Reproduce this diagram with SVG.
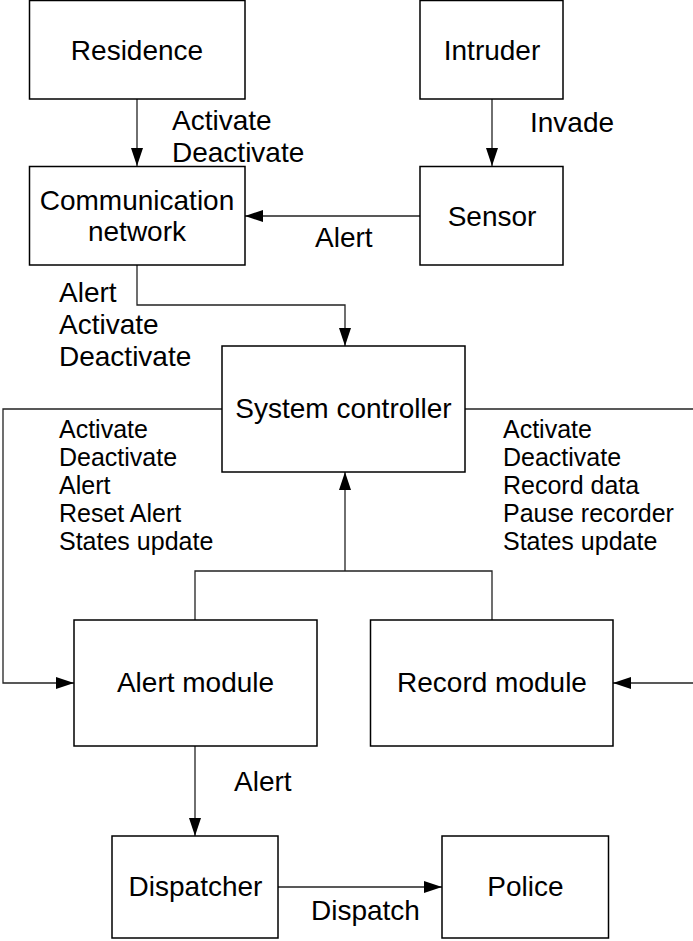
<svg xmlns="http://www.w3.org/2000/svg" width="693" height="941" viewBox="0 0 693 941">
  <defs>
    <marker id="arrow" viewBox="0 0 18 12" refX="18" refY="6" markerWidth="18" markerHeight="12" markerUnits="userSpaceOnUse" orient="auto">
      <path d="M0,0 L18,6 L0,12 Z" fill="#000"/>
    </marker>
    <style>
      .box { fill: #fff; stroke: #000; stroke-width: 1.5; }
      .name { font-family: "Liberation Sans", Arial, sans-serif; font-size: 28px; fill: #000; text-anchor: middle; }
      .lbl { font-family: "Liberation Sans", Arial, sans-serif; font-size: 28px; fill: #000; }
      .small { font-family: "Liberation Sans", Arial, sans-serif; font-size: 25px; fill: #000; }
      .wire { fill: none; stroke: #222; stroke-width: 1.3; }
    </style>
  </defs>
  <rect width="693" height="941" fill="#fff"/>

  <!-- connectors -->
  <g id="connectors">
    <path class="wire" d="M137,99 V166" marker-end="url(#arrow)"/>
    <path class="wire" d="M492,99 V166" marker-end="url(#arrow)"/>
    <path class="wire" d="M420,216 H245" marker-end="url(#arrow)"/>
    <path class="wire" d="M137,265 V305 H345 V346" marker-end="url(#arrow)"/>
    <path class="wire" d="M222,409 H3 V683 H74" marker-end="url(#arrow)"/>
    <path class="wire" d="M465,409 H693"/>
    <path class="wire" d="M693,683 H613" marker-end="url(#arrow)"/>
    <path class="wire" d="M195,620 V571 H492 V620"/>
    <path class="wire" d="M345,571 V472" marker-end="url(#arrow)"/>
    <path class="wire" d="M195,746 V836" marker-end="url(#arrow)"/>
    <path class="wire" d="M278,887 H442" marker-end="url(#arrow)"/>

    <text class="lbl" x="172" y="130">Activate</text>
    <text class="lbl" x="172" y="162">Deactivate</text>
    <text class="lbl" x="530" y="132">Invade</text>
    <text class="lbl" x="315" y="247">Alert</text>
    <text class="lbl" x="59" y="302">Alert</text>
    <text class="lbl" x="59" y="334">Activate</text>
    <text class="lbl" x="59" y="366">Deactivate</text>
    <text class="small" x="59" y="438">Activate</text>
    <text class="small" x="59" y="466">Deactivate</text>
    <text class="small" x="59" y="494">Alert</text>
    <text class="small" x="59" y="522">Reset Alert</text>
    <text class="small" x="59" y="550">States update</text>
    <text class="small" x="503" y="438">Activate</text>
    <text class="small" x="503" y="466">Deactivate</text>
    <text class="small" x="503" y="494">Record data</text>
    <text class="small" x="503" y="522">Pause recorder</text>
    <text class="small" x="503" y="550">States update</text>
    <text class="lbl" x="234" y="791">Alert</text>
    <text class="lbl" x="311" y="920">Dispatch</text>
  </g>

  <g id="residence">
    <rect class="box" x="29.5" y="0.5" width="215.5" height="98.5"/>
    <text class="name" x="137" y="60">Residence</text>
  </g>
  <g id="intruder">
    <rect class="box" x="420" y="0.5" width="143" height="98.5"/>
    <text class="name" x="492" y="60">Intruder</text>
  </g>
  <g id="communication-network">
    <rect class="box" x="29.5" y="166.5" width="215.5" height="98.5"/>
    <text class="name" x="137" y="210">Communication</text>
    <text class="name" x="137" y="241">network</text>
  </g>
  <g id="sensor">
    <rect class="box" x="420" y="166.5" width="143" height="98.5"/>
    <text class="name" x="492" y="226">Sensor</text>
  </g>
  <g id="system-controller">
    <rect class="box" x="222" y="346" width="243" height="126"/>
    <text class="name" x="343.5" y="418">System controller</text>
  </g>
  <g id="alert-module">
    <rect class="box" x="74" y="620" width="243" height="126"/>
    <text class="name" x="195.5" y="692">Alert module</text>
  </g>
  <g id="record-module">
    <rect class="box" x="370.5" y="620" width="242.5" height="126"/>
    <text class="name" x="492" y="692">Record module</text>
  </g>
  <g id="dispatcher">
    <rect class="box" x="112" y="836" width="166" height="102"/>
    <text class="name" x="195.5" y="896">Dispatcher</text>
  </g>
  <g id="police">
    <rect class="box" x="442" y="836" width="166.5" height="102"/>
    <text class="name" x="525.5" y="896">Police</text>
  </g>
</svg>
